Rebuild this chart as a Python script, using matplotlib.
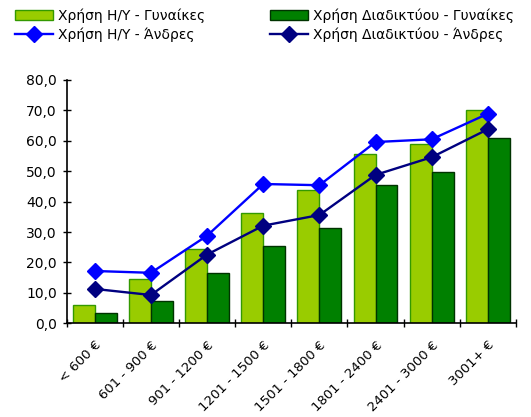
import matplotlib

matplotlib.use("Agg")
import matplotlib.pyplot as plt
import numpy as np
from matplotlib.ticker import FixedLocator, FuncFormatter

categories = ["< 600 €", "601 - 900 €", "901 - 1200 €", "1201 - 1500 €",
              "1501 - 1800 €", "1801 - 2400 €", "2401 - 3000 €", "3001+ €"]
pc_women = [5.9, 14.7, 24.3, 36.2, 43.9, 55.7, 59.0, 70.2]
net_women = [3.5, 7.4, 16.6, 25.5, 31.3, 45.5, 49.8, 61.0]
pc_men = [17.2, 16.6, 28.8, 45.8, 45.4, 59.6, 60.5, 68.9]
net_men = [11.3, 9.3, 22.6, 32.1, 35.6, 48.8, 54.6, 63.8]

labels = ["Χρήση Η/Υ - Γυναίκες", "Χρήση Διαδικτύου - Γυναίκες",
          "Χρήση Η/Υ - Άνδρες", "Χρήση Διαδικτύου - Άνδρες"]

LIGHT = "#99CC00"
DARK = "#008000"
BLUE = "#0000FF"
NAVY = "#000080"

plt.rcParams["font.family"] = ["DejaVu Sans"]

fig = plt.figure(figsize=(5.31, 4.17), dpi=100)
ax = fig.add_axes([0.1256, 0.2247, 0.846, 0.5835])

x = np.arange(len(categories))
w = 0.39
b1 = ax.bar(x - w / 2, pc_women, w, color=LIGHT, edgecolor="#339900", linewidth=1, zorder=2)
b2 = ax.bar(x + w / 2, net_women, w, color=DARK, edgecolor="#003300", linewidth=1, zorder=2)
l1, = ax.plot(x, pc_men, color=BLUE, lw=1.7, marker="D", ms=8, zorder=3)
l2, = ax.plot(x, net_men, color=NAVY, lw=1.7, marker="D", ms=8, zorder=3)

ax.set_xlim(-0.5, len(categories) - 0.5)
ax.set_ylim(0, 80)
ax.set_yticks(np.arange(0, 81, 10))
ax.yaxis.set_major_formatter(FuncFormatter(lambda v, p: f"{v:.1f}".replace(".", ",")))
ax.tick_params(axis="y", direction="inout", length=6, width=1, labelsize=10, pad=4)

ax.set_xticks(x)
ax.set_xticklabels(categories, rotation=45, ha="right", rotation_mode="anchor", fontsize=9.5)
ax.tick_params(axis="x", which="major", length=0, pad=11)
ax.xaxis.set_minor_locator(FixedLocator(np.arange(-0.5, len(categories), 1.0)))
ax.tick_params(axis="x", which="minor", direction="inout", length=6, width=1)

for s in ["top", "right"]:
    ax.spines[s].set_visible(False)
for s in ["left", "bottom"]:
    ax.spines[s].set_linewidth(1.2)

leg_kw = dict(loc="upper left", frameon=False, fontsize=10, handlelength=2.75,
              handletextpad=0.35, labelspacing=0.3, borderpad=0, borderaxespad=0)
leg1 = fig.legend([b1, l1], [labels[0], labels[2]], bbox_to_anchor=(15 / 531, 0.98), **leg_kw)
leg2 = fig.legend([b2, l2], [labels[1], labels[3]], bbox_to_anchor=(270 / 531, 0.98), **leg_kw)

fig.savefig("out.png", dpi=100)
